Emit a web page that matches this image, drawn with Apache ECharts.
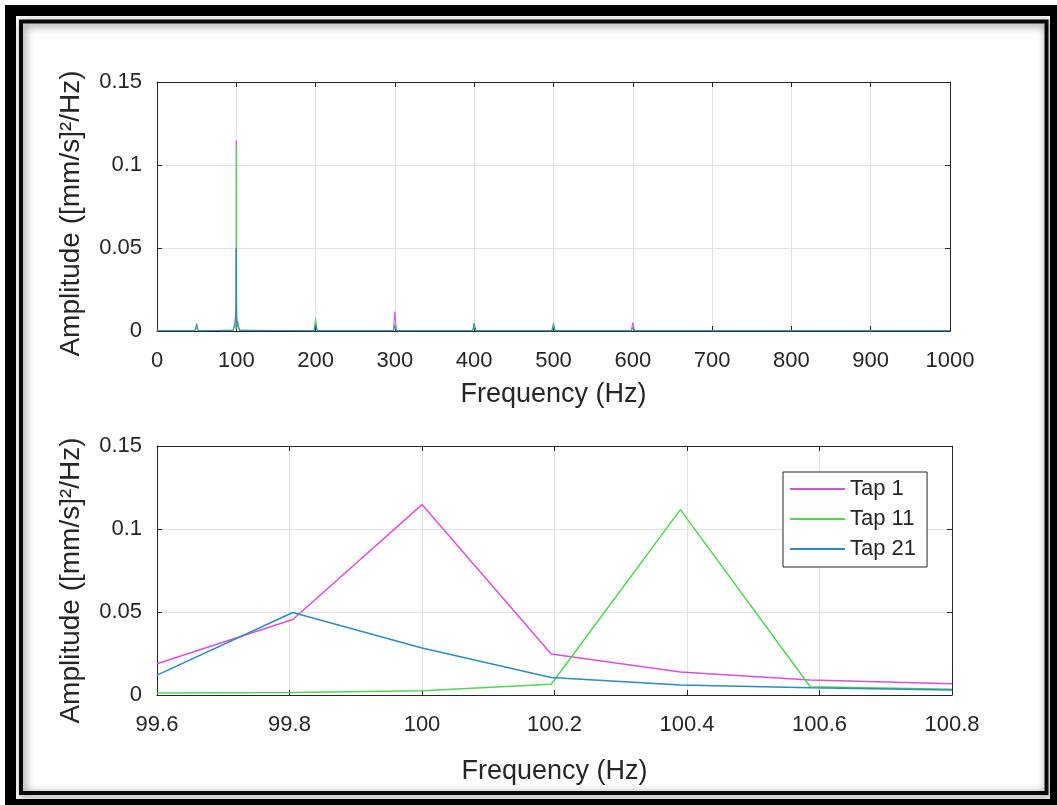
<!DOCTYPE html>
<html>
<head>
<meta charset="utf-8">
<script src="https://cdn.jsdelivr.net/npm/echarts@6/dist/echarts.min.js"></script>
<style>
html,body{margin:0;padding:0;background:#fff;}
#chart{width:1057px;height:805px;}
</style>
</head>
<body>
<div id="chart"></div>
<script>
// ---------- data ----------
const seriesNames = ['Tap 1', 'Tap 11', 'Tap 21'];

// zoomed window around 100 Hz (bottom panel)
const fineFreq  = [99.6, 99.805, 100.0, 100.195, 100.39, 100.586, 100.8];
const tap1Fine  = [0.0188, 0.0455, 0.1147, 0.0247, 0.0138, 0.0091, 0.0068];
const tap11Fine = [0.0012, 0.0015, 0.0026, 0.0065, 0.1117, 0.0050, 0.0035];
const tap21Fine = [0.0120, 0.0497, 0.0283, 0.0105, 0.0060, 0.0044, 0.0030];

// full spectrum below / above the zoom window (top panel)
const lowFreq  = [0, 48, 50, 52, 96, 98.5];
const tap1Low  = [0.0002, 0.0002, 0.0020, 0.0002, 0.0004, 0.0040];
const tap11Low = [0.0002, 0.0002, 0.0030, 0.0002, 0.0004, 0.0040];
const tap21Low = [0.0002, 0.0002, 0.0045, 0.0002, 0.0004, 0.0060];

const highFreq  = [101.5, 104, 198, 200, 202, 298, 300, 302, 398, 400, 402, 498, 500, 502, 598, 600, 602, 1000];
const tap1High  = [0.0040, 0.0004, 0.0002, 0.0050, 0.0002, 0.0002, 0.0116, 0.0002, 0.0002, 0.0030, 0.0002, 0.0002, 0.0030, 0.0002, 0.0002, 0.0050, 0.0002, 0.0002];
const tap11High = [0.0040, 0.0004, 0.0002, 0.0076, 0.0002, 0.0002, 0.0040, 0.0002, 0.0002, 0.0030, 0.0002, 0.0002, 0.0030, 0.0002, 0.0002, 0.0020, 0.0002, 0.0002];
const tap21High = [0.0060, 0.0004, 0.0002, 0.0040, 0.0002, 0.0002, 0.0030, 0.0002, 0.0002, 0.0048, 0.0002, 0.0002, 0.0045, 0.0002, 0.0002, 0.0020, 0.0002, 0.0002];

// tick labels
const xTicksTop    = [0, 100, 200, 300, 400, 500, 600, 700, 800, 900, 1000];
const xTicksBottom = [99.6, 99.8, 100, 100.2, 100.4, 100.6, 100.8];
const yTicks       = [0, 0.05, 0.1, 0.15];

// ---------- build ----------
const zip = (xs, ys) => xs.map((x, i) => [x, ys[i]]);
const topData = [
  zip(lowFreq, tap1Low).concat(zip(fineFreq, tap1Fine), zip(highFreq, tap1High)),
  zip(lowFreq, tap11Low).concat(zip(fineFreq, tap11Fine), zip(highFreq, tap11High)),
  zip(lowFreq, tap21Low).concat(zip(fineFreq, tap21Fine), zip(highFreq, tap21High))
];
const bottomData = [zip(fineFreq, tap1Fine), zip(fineFreq, tap11Fine), zip(fineFreq, tap21Fine)];
const colors = ['#dc4fdc', '#4fd84f', '#2a8cc2'];

const FONT = "'Liberation Sans', Arial, sans-serif";
const INK = '#262626';
const GRIDC = '#e2e2e2';
const fmt = v => String(parseFloat(Number(v).toFixed(3)));

function xAxes(gridIndex, ticks, nameGap) {
  const min = ticks[0], max = ticks[ticks.length - 1];
  const interval = +(ticks[1] - ticks[0]).toFixed(6);
  return [{
    gridIndex, type: 'value', min, max, interval, position: 'bottom',
    axisLine: { show: true, onZero: false, lineStyle: { color: INK, width: 1 } },
    axisTick: { show: true, inside: true, length: 5, lineStyle: { color: INK } },
    splitLine: { show: true, lineStyle: { color: GRIDC, width: 1 } },
    axisLabel: { color: INK, fontSize: 22, fontFamily: FONT, margin: 19, formatter: fmt, showMinLabel: true, showMaxLabel: true },
    name: 'Frequency (Hz)', nameLocation: 'middle', nameGap,
    nameTextStyle: { color: INK, fontSize: 27, fontFamily: FONT }
  }, {
    gridIndex, type: 'value', min, max, interval, position: 'top',
    axisLine: { show: true, onZero: false, lineStyle: { color: INK, width: 1 } },
    axisTick: { show: true, inside: true, length: 5, lineStyle: { color: INK } },
    splitLine: { show: false }, axisLabel: { show: false }
  }];
}
function yAxes(gridIndex, shiftPad) {
  const min = yTicks[0], max = yTicks[yTicks.length - 1];
  const interval = yTicks[1] - yTicks[0];
  return [{
    gridIndex, type: 'value', min, max, interval, position: 'left',
    axisLine: { show: true, onZero: false, lineStyle: { color: INK, width: 1 } },
    axisTick: { show: true, inside: true, length: 5, lineStyle: { color: INK } },
    splitLine: { show: true, lineStyle: { color: GRIDC, width: 1 } },
    axisLabel: { color: INK, fontSize: 22, fontFamily: FONT, margin: 15, formatter: fmt },
    name: 'Amplitude ([mm/s]²/Hz)', nameLocation: 'middle', nameRotate: 90, nameGap: 72,
    nameTextStyle: { color: INK, fontSize: 28, fontFamily: FONT, padding: [0, shiftPad, 0, 0] }
  }, {
    gridIndex, type: 'value', min, max, interval, position: 'right',
    axisLine: { show: true, onZero: false, lineStyle: { color: INK, width: 1 } },
    axisTick: { show: true, inside: true, length: 5, lineStyle: { color: INK } },
    splitLine: { show: false }, axisLabel: { show: false }
  }];
}

const series = [];
seriesNames.forEach((n, i) => {
  series.push({ name: n, type: 'line', xAxisIndex: 0, yAxisIndex: 0, data: topData[i],
    symbol: 'none', showSymbol: false, clip: true, animation: false,
    lineStyle: { color: colors[i], width: 1 }, itemStyle: { color: colors[i] } });
});
seriesNames.forEach((n, i) => {
  series.push({ name: n, type: 'line', xAxisIndex: 2, yAxisIndex: 2, data: bottomData[i],
    symbol: 'none', showSymbol: false, clip: true, animation: false,
    lineStyle: { color: colors[i], width: 1.5 }, itemStyle: { color: colors[i] } });
});

const option = {
  backgroundColor: '#fff',
  animation: false,
  grid: [
    { left: 157, top: 82, width: 793, height: 249, containLabel: false },
    { left: 157, top: 446, width: 795, height: 249, containLabel: false }
  ],
  xAxis: xAxes(0, xTicksTop, 50).concat(xAxes(1, xTicksBottom, 63)),
  yAxis: yAxes(0, 14).concat(yAxes(1, 20)),
  legend: {
    data: seriesNames, orient: 'vertical', left: 783, top: 472,
    padding: [6, 11, 7, 7], itemWidth: 55, itemHeight: 2, itemGap: 8,
    icon: 'rect',
    borderColor: INK, borderWidth: 1, backgroundColor: '#fff',
    textStyle: { color: INK, fontSize: 22, fontFamily: FONT, lineHeight: 22 }
  },
  graphic: { elements: [
    { type: 'rect', silent: true, z: 100,
      shape: { x: 10.5, y: 10.5, width: 1045, height: 794 },
      style: { fill: 'none', stroke: '#000', lineWidth: 11 } },
    { type: 'rect', silent: true, z: 100,
      shape: { x: 21, y: 21.5, width: 1025.5, height: 771.5 },
      style: { fill: 'none', stroke: '#0a0a0a', lineWidth: 4,
        shadowBlur: 9, shadowOffsetX: 2, shadowOffsetY: 2, shadowColor: 'rgba(0,0,0,0.55)' } }
  ] },
  series
};

const chart = echarts.init(document.getElementById('chart'), null, { renderer: 'canvas' });
chart.setOption(option);
</script>
</body>
</html>
